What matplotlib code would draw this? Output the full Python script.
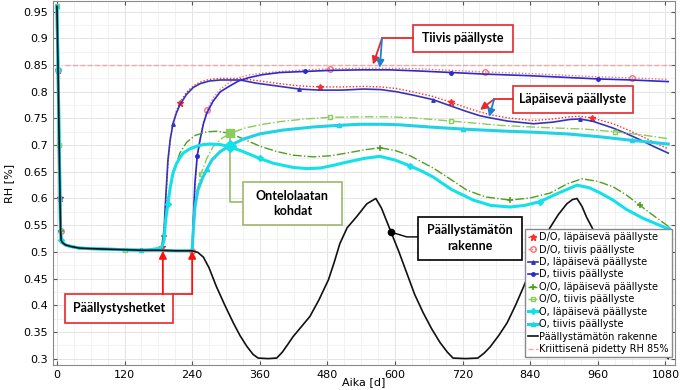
import matplotlib
matplotlib.use("Agg")
import matplotlib.pyplot as plt
from matplotlib.patches import Rectangle
from matplotlib.ticker import MultipleLocator, FormatStrFormatter

# ------------------------------------------------------------
# Data (luettu kuvasta): aika [d] ja RH [-]
# ------------------------------------------------------------
# kaikille yhteinen alkuosa (kuivuminen ennen päällystystä)
base_days = [0, 2, 4, 5.5, 6.5, 7.5, 10, 15, 25, 40, 60, 90, 120, 150]
base_rh = [0.96, 0.84, 0.70, 0.60, 0.54, 0.522, 0.517, 0.513, 0.51, 0.507,
           0.506, 0.505, 0.504, 0.503]

# ennen päällystystä päivänä 190 / 240
lap_pre_days = [165, 178, 186]
lap_pre_rh = [0.504, 0.506, 0.509]
tiiv_pre_days = [180, 210, 238]
tiiv_pre_rh = [0.503, 0.502, 0.502]

d_lap_days = [190, 193, 197, 201, 206, 212, 218, 230, 242, 254, 270, 290, 325,
              354, 396, 430, 467, 505, 544, 575, 603, 635, 668, 700, 727, 751,
              769, 800, 846, 880, 910, 928, 950, 970, 987, 1010, 1035, 1060, 1085]
d_lap_rh = [0.54, 0.60, 0.672, 0.71, 0.74, 0.76, 0.775, 0.795, 0.808, 0.815,
            0.82, 0.822, 0.822, 0.816, 0.81, 0.805, 0.803, 0.803, 0.805, 0.804,
            0.80, 0.793, 0.785, 0.773, 0.763, 0.755, 0.751, 0.745, 0.74, 0.743,
            0.748, 0.749, 0.745, 0.738, 0.732, 0.722, 0.71, 0.697, 0.685]
do_lap_rh = [0.53, 0.59, 0.665, 0.71, 0.742, 0.763, 0.779, 0.799, 0.811, 0.818,
             0.823, 0.825, 0.825, 0.821, 0.815, 0.811, 0.809, 0.809, 0.81, 0.809,
             0.806, 0.799, 0.791, 0.78, 0.77, 0.762, 0.757, 0.751, 0.746, 0.749,
             0.753, 0.754, 0.751, 0.745, 0.74, 0.73, 0.718, 0.705, 0.693]

d_tiiv_days = [240, 242, 245, 249, 254, 260, 266, 277, 290, 307, 322, 339, 365,
               396, 440, 485, 540, 590, 640, 700, 760, 840, 900, 960, 1020, 1085]
d_tiiv_rh = [0.502, 0.56, 0.63, 0.68, 0.71, 0.74, 0.76, 0.782, 0.80, 0.811,
             0.82, 0.826, 0.832, 0.836, 0.838, 0.84, 0.841, 0.841, 0.839, 0.836,
             0.833, 0.83, 0.827, 0.824, 0.822, 0.819]
do_tiiv_rh = [0.502, 0.555, 0.62, 0.675, 0.71, 0.742, 0.765, 0.788, 0.805, 0.818,
              0.826, 0.831, 0.835, 0.838, 0.841, 0.843, 0.844, 0.844, 0.843, 0.84,
              0.837, 0.834, 0.831, 0.828, 0.826, 0.823]

oo_lap_days = [190, 194, 200, 208, 218, 230, 245, 266, 285, 307, 330, 360, 390,
               420, 455, 485, 514, 545, 573, 600, 627, 650, 668, 700, 727, 760,
               804, 840, 875, 905, 932, 960, 987, 1010, 1035, 1060, 1085]
oo_lap_rh = [0.53, 0.58, 0.616, 0.65, 0.685, 0.705, 0.718, 0.725, 0.726, 0.722,
             0.712, 0.698, 0.688, 0.681, 0.678, 0.68, 0.685, 0.691, 0.695, 0.69,
             0.68, 0.667, 0.657, 0.635, 0.616, 0.603, 0.597, 0.601, 0.61, 0.627,
             0.637, 0.632, 0.622, 0.607, 0.587, 0.567, 0.548]

oo_tiiv_days = [240, 243, 248, 255, 266, 277, 292, 307, 334, 365, 396, 440, 485,
                540, 590, 633, 700, 786, 860, 937, 990, 1040, 1085]
oo_tiiv_rh = [0.502, 0.56, 0.61, 0.645, 0.675, 0.697, 0.712, 0.722, 0.732, 0.739,
              0.744, 0.749, 0.752, 0.753, 0.753, 0.751, 0.745, 0.737, 0.733, 0.73,
              0.725, 0.719, 0.712]

o_lap_days = [190, 193, 197, 201, 206, 212, 218, 224, 236, 248, 260, 272, 290,
              307, 330, 360, 384, 420, 445, 467, 490, 514, 545, 573, 600, 627,
              650, 668, 700, 739, 770, 804, 830, 857, 890, 923, 945, 965, 987,
              1010, 1040, 1085]
o_lap_rh = [0.52, 0.56, 0.59, 0.62, 0.648, 0.665, 0.676, 0.685, 0.693, 0.698,
            0.701, 0.702, 0.701, 0.697, 0.688, 0.675, 0.666, 0.658, 0.656, 0.657,
            0.662, 0.668, 0.675, 0.679, 0.672, 0.661, 0.65, 0.64, 0.617, 0.597,
            0.587, 0.584, 0.587, 0.594, 0.61, 0.625, 0.62, 0.61, 0.597, 0.58,
            0.563, 0.543]

o_tiiv_days = [240, 242, 245, 250, 257, 266, 275, 290, 307, 330, 360, 400, 455,
               500, 538, 575, 609, 660, 721, 800, 850, 905, 960, 1020, 1085]
o_tiiv_rh = [0.502, 0.54, 0.584, 0.615, 0.635, 0.655, 0.672, 0.688, 0.699, 0.711,
             0.721, 0.728, 0.734, 0.737, 0.739, 0.739, 0.738, 0.734, 0.73, 0.726,
             0.724, 0.721, 0.716, 0.709, 0.702]

black_days = [180, 210, 240, 250, 260, 270, 283, 298, 313, 325, 337, 348, 357,
              375, 390, 400, 410, 419, 434, 449, 465, 482, 492, 502, 515, 532,
              550, 566, 576, 593, 607, 621, 635, 650, 665, 680, 693, 703, 725,
              747, 758, 769, 784, 799, 814, 828, 840, 855, 875, 890, 905, 915,
              923, 932, 940, 950, 965, 980, 1000, 1020, 1040, 1060, 1085]
black_rh = [0.503, 0.502, 0.502, 0.499, 0.49, 0.47, 0.435, 0.40, 0.367, 0.343,
            0.323, 0.308, 0.301, 0.30, 0.301, 0.312, 0.327, 0.341, 0.36, 0.379,
            0.41, 0.448, 0.48, 0.515, 0.545, 0.566, 0.59, 0.6, 0.582, 0.537,
            0.50, 0.46, 0.42, 0.386, 0.356, 0.33, 0.312, 0.301, 0.30, 0.301,
            0.31, 0.322, 0.343, 0.367, 0.40, 0.434, 0.465, 0.50, 0.545, 0.57,
            0.59, 0.598, 0.6, 0.585, 0.565, 0.545, 0.51, 0.47, 0.43, 0.39,
            0.355, 0.325, 0.30]

crit_days = [14, 1090]
crit_rh = [0.85, 0.85]

LABELS = ["D/O, läpäisevä päällyste", "D/O, tiivis päällyste",
          "D, läpäisevä päällyste", "D, tiivis päällyste",
          "O/O, läpäisevä päällyste", "O/O, tiivis päällyste",
          "O, läpäisevä päällyste", "O, tiivis päällyste",
          "Päällystämätön rakenne", "Kriittisenä pidetty RH 85%"]


def lap(days, rh):
    return base_days + lap_pre_days + days, base_rh + lap_pre_rh + rh


def tiiv(days, rh):
    return base_days + tiiv_pre_days + days, base_rh + tiiv_pre_rh + rh


BLUE = "#2a2ad0"
GREEN = "#4f9e1e"
LGREEN = "#8ccc5c"
CYAN = "#14e0ea"

fig = plt.figure(figsize=(6.8, 3.9), dpi=100)
ax = fig.add_axes([53 / 680, 25 / 390, 622 / 680, 364 / 390])

# sarjat (järjestys = legendan järjestys)
x, y = lap(d_lap_days, do_lap_rh)
ax.plot(x, y, ls=(0, (1, 1.4)), lw=1.0, color="#ff2a2a", marker="*", ms=5,
        markevery=(0.07, 0.2), label=LABELS[0])
x, y = tiiv(d_tiiv_days, do_tiiv_rh)
ax.plot(x, y, ls=(0, (1, 1.4)), lw=1.0, color="#ff6e6e", marker="o", ms=4,
        mfc="none", markevery=(0.11, 0.2), label=LABELS[1])
x, y = lap(d_lap_days, d_lap_rh)
ax.plot(x, y, ls="-", lw=1.2, color="#3535b8", marker="^", ms=2.5,
        markevery=(0.04, 0.2), label=LABELS[2])
x, y = tiiv(d_tiiv_days, d_tiiv_rh)
ax.plot(x, y, ls="-", lw=1.2, color=BLUE, marker="o", ms=2.5,
        markevery=(0.05, 0.2), label=LABELS[3])
x, y = lap(oo_lap_days, oo_lap_rh)
ax.plot(x, y, ls="-.", lw=1.0, color=GREEN, marker="+", ms=4, mew=1.2,
        markevery=(0.09, 0.2), label=LABELS[4])
x, y = tiiv(oo_tiiv_days, oo_tiiv_rh)
ax.plot(x, y, ls="-.", lw=1.0, color=LGREEN, marker="s", ms=3.5, mfc="none",
        markevery=(0.02, 0.2), label=LABELS[5])
x, y = lap(o_lap_days, o_lap_rh)
ax.plot(x, y, ls="-", lw=2.2, color=CYAN, marker="D", ms=3,
        markevery=(0.12, 0.2), label=LABELS[6])
x, y = tiiv(o_tiiv_days, o_tiiv_rh)
ax.plot(x, y, ls="-", lw=2.2, color="#1fd2e6", marker="^", ms=3,
        markevery=(0.03, 0.2), label=LABELS[7])
ax.plot(base_days + black_days, base_rh + black_rh, color="#111111", lw=1.2,
        label=LABELS[8])
ax.plot(crit_days, crit_rh, ls="--", lw=1.0, color="#f4a6a6", label=LABELS[9])

# "Ontelolaatan kohdat" -pisteet ja päällystämättömän rakenteen piste
i_oo = oo_tiiv_days.index(307)
i_o = o_tiiv_days.index(307)
ax.plot(oo_tiiv_days[i_oo], oo_tiiv_rh[i_oo], "s", ms=6, color=LGREEN, zorder=8)
ax.plot(o_tiiv_days[i_o], o_tiiv_rh[i_o], "D", ms=6, color=CYAN, zorder=8)
i_b = black_days.index(593)
ax.plot(black_days[i_b], black_rh[i_b], "o", ms=4.5, color="black", zorder=8)

# akselit
ax.set_xlim(-7, 1097)
ax.set_ylim(0.288, 0.97)
ax.xaxis.set_major_locator(MultipleLocator(120))
ax.xaxis.set_minor_locator(MultipleLocator(30))
ax.yaxis.set_major_locator(MultipleLocator(0.05))
ax.yaxis.set_minor_locator(MultipleLocator(0.025))
ax.yaxis.set_major_formatter(FormatStrFormatter("%g"))
ax.grid(True, which="major", color="#e4e4e4", lw=0.7)
ax.grid(True, which="minor", color="#f0f0f0", lw=0.6)
ax.set_axisbelow(True)
ax.tick_params(which="both", direction="in", top=True, right=True,
               labelsize=8, colors="#555555", labelcolor="black")
ax.tick_params(which="major", length=3)
ax.tick_params(which="minor", length=0)
for s in ax.spines.values():
    s.set_color("#8a8a8a")
ax.set_xlabel("Aika [d]", fontsize=8)
ax.set_ylabel("RH [%]", fontsize=8)
ax.xaxis.set_label_coords(0.5, -0.032)
ax.yaxis.set_label_coords(-0.062, 0.5)

leg = ax.legend(loc="lower right", bbox_to_anchor=(0.995, 0.022), fontsize=7,
                handlelength=1.0, handletextpad=0.2, labelspacing=0.25,
                borderpad=0.3, fancybox=False, framealpha=1,
                edgecolor="#8a8a8a", borderaxespad=0)
leg.set_zorder(10)


# tekstilaatikot ja nuolet
def laatikko(x0, x1, y0, y1, teksti, vari):
    ax.add_patch(Rectangle((x0, y0), x1 - x0, y1 - y0, facecolor="white",
                           edgecolor=vari, lw=1.2, zorder=9))
    ax.text((x0 + x1) / 2, (y0 + y1) / 2, teksti, ha="center", va="center",
            fontsize=9, fontweight="bold", family="Lato", zorder=9,
            linespacing=1.35)


def nuoli(alku, karki, vari):
    ax.annotate("", xy=karki, xytext=alku, zorder=9,
                arrowprops=dict(arrowstyle="-|>", color=vari, lw=1.3,
                                mutation_scale=11, shrinkA=0, shrinkB=0))


ARED = "#e8262b"
ABLUE = "#1e7fd0"

laatikko(632, 810, 0.875, 0.925, "Tiivis päällyste", ARED)
ax.plot([632, 577], [0.9, 0.9], color=ARED, lw=1.3, zorder=9)
nuoli((577, 0.9), (561, 0.851), ARED)
nuoli((577, 0.9), (573, 0.845), ABLUE)

laatikko(810, 1022, 0.760, 0.811, "Läpäisevä päällyste", ARED)
ax.plot([810, 776], [0.786, 0.786], color=ARED, lw=1.3, zorder=9)
nuoli((776, 0.786), (751, 0.766), ARED)
nuoli((776, 0.786), (767, 0.753), ABLUE)

laatikko(14, 206, 0.367, 0.421, "Päällystyshetket", ARED)
ax.plot([206, 240], [0.421, 0.421], color=ARED, lw=1.3, zorder=9)
nuoli((188, 0.421), (188, 0.502), "#ff1010")
nuoli((240, 0.421), (240, 0.502), "#ff1010")

laatikko(330, 506, 0.551, 0.631, "Ontelolaatan\nkohdat", "#9db86c")
ax.plot([307, 307, 330], [0.722, 0.593, 0.593], color="#9db86c", lw=1.2,
        zorder=7)

laatikko(641, 825, 0.485, 0.566, "Päällystämätön\nrakenne", "black")
ax.plot([593, 621, 641], [0.537, 0.528, 0.528], color="black", lw=1.0,
        zorder=7)

fig.savefig("out.png", dpi=100)
